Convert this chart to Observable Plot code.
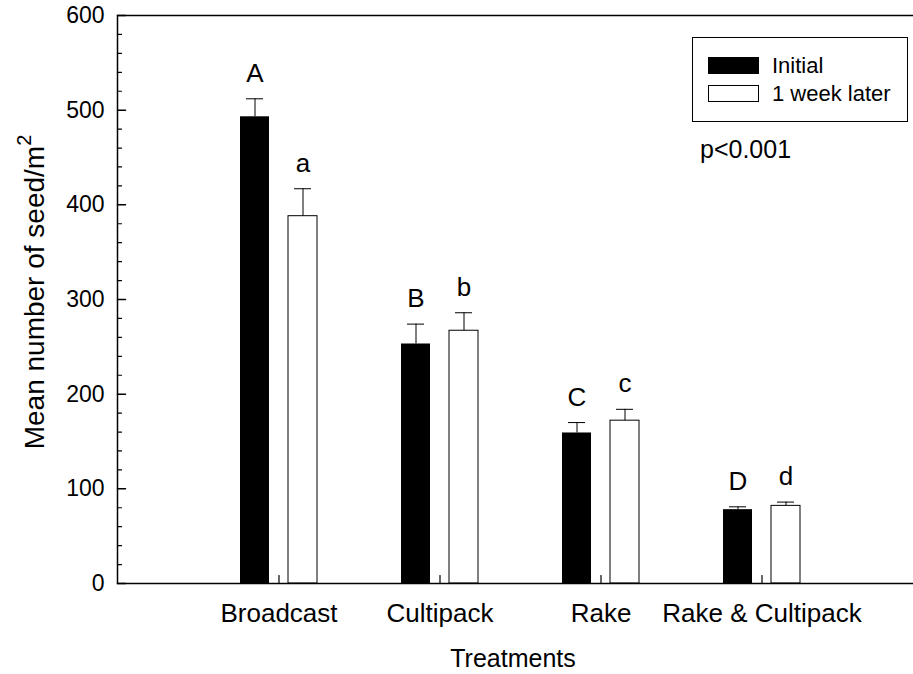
<!DOCTYPE html>
<html><head><meta charset="utf-8">
<script src="https://cdn.jsdelivr.net/npm/d3@7"></script>
<script src="https://cdn.jsdelivr.net/npm/@observablehq/plot@0.6"></script>
<style>
html,body{margin:0;padding:0;background:#fff;overflow:hidden;}
#wrap{position:relative;width:913px;height:674px;font-family:"Liberation Sans",Arial,sans-serif;color:#000;}
#wrap svg{display:block;}
.ylab{position:absolute;left:35px;top:292px;transform:translate(-50%,-50%) rotate(-90deg);white-space:nowrap;font-size:28px;line-height:28px;}
.ylab sup{font-size:20px;position:relative;top:-3px;vertical-align:super;line-height:0;}
.legend{position:absolute;left:692px;top:37px;width:216px;height:85px;border:1px solid #000;background:#fff;box-sizing:border-box;}
.sw{position:absolute;left:15px;width:51px;height:17px;box-sizing:border-box;border:1px solid #000;}
.lt{position:absolute;left:79px;font-size:22px;line-height:22px;}
.pval{position:absolute;left:700px;top:137px;font-size:25px;line-height:25px;}
</style></head><body><div id="wrap"></div>
<script>
const treatments = ["Broadcast", "Cultipack", "Rake", "Rake & Cultipack"];
const initialMean = [493, 253, 159, 78];
const initialSE = [19, 21, 11, 3];
const weekMean = [388, 267, 172, 82];
const weekSE = [29, 19, 12, 4];
const initialLetters = ["A", "B", "C", "D"];
const weekLetters = ["a", "b", "c", "d"];
const seriesNames = ["Initial", "1 week later"];
const yMajorTicks = [0, 100, 200, 300, 400, 500, 600];
const yMinorTicks = [20, 40, 60, 80, 120, 140, 160, 180, 220, 240, 260, 280, 320, 340, 360, 380, 420, 440, 460, 480, 520, 540, 560, 580];

const initialRows = treatments.map((t, i) => ({treatment: t, mean: initialMean[i], top: initialMean[i] + initialSE[i], letter: initialLetters[i]}));
const weekRows = treatments.map((t, i) => ({treatment: t, mean: weekMean[i], top: weekMean[i] + weekSE[i], letter: weekLetters[i]}));

const tickShape = {draw(context, l) { context.moveTo(0, 0); context.lineTo(0, -l); }};
const off = 24;
const font = "Liberation Sans, Arial, sans-serif";

const chart = Plot.plot({
  width: 913,
  height: 674,
  marginLeft: 117,
  marginRight: -9,
  marginTop: 15,
  marginBottom: 91,
  style: {fontFamily: font, color: "#000", background: "#fff"},
  x: {type: "band", domain: treatments, range: [117, 922], paddingInner: 0.82, paddingOuter: 0.91},
  y: {domain: [0, 600], range: [583, 15]},
  marks: [
    Plot.rectY(initialRows, {x: "treatment", y: "mean", dx: -off, fill: "#000"}),
    Plot.rectY(weekRows, {x: "treatment", y: "mean", dx: off, fill: "#fff", stroke: "#000", strokeWidth: 1}),
    Plot.ruleX(initialRows, {x: "treatment", y1: "mean", y2: "top", dx: -off, stroke: "#000"}),
    Plot.ruleX(weekRows, {x: "treatment", y1: "mean", y2: "top", dx: off, stroke: "#000"}),
    Plot.tickY(initialRows, {x: "treatment", y: "top", dx: -off, insetLeft: 6, insetRight: 6, stroke: "#000"}),
    Plot.tickY(weekRows, {x: "treatment", y: "top", dx: off, insetLeft: 6, insetRight: 6, stroke: "#000"}),
    Plot.text(initialRows, {x: "treatment", y: "top", text: "letter", dx: -off, dy: -17, lineAnchor: "bottom", fontSize: 26, fill: "#000"}),
    Plot.text(weekRows, {x: "treatment", y: "top", text: "letter", dx: off, dy: -17, lineAnchor: "bottom", fontSize: 26, fill: "#000"}),
    Plot.frame({stroke: "#000", strokeWidth: 1.5}),
    Plot.vector(yMajorTicks, {y: d => d, frameAnchor: "left", length: 8, rotate: 90, anchor: "start", shape: tickShape, stroke: "#000", strokeWidth: 1.5}),
    Plot.vector(yMinorTicks, {y: d => d, frameAnchor: "left", length: 4, rotate: 90, anchor: "start", shape: tickShape, stroke: "#000", strokeWidth: 1.2}),
    Plot.vector(treatments, {x: d => d, frameAnchor: "bottom", length: 8, rotate: 0, anchor: "start", shape: tickShape, stroke: "#000", strokeWidth: 1.2}),
    Plot.axisY({ticks: yMajorTicks, tickSize: 0, tickPadding: 13, fontSize: 23, label: null}),
    Plot.axisX({tickSize: 0, tickPadding: 20, fontSize: 26, label: null}),
    Plot.text(["Treatments"], {text: d => d, frameAnchor: "bottom", dx: -7, dy: 83, fontSize: 25, fill: "#000"})
  ]
});

const wrap = document.getElementById("wrap");
wrap.appendChild(chart);

const ylab = document.createElement("div");
ylab.className = "ylab";
ylab.innerHTML = "Mean number of seed/m<sup>2</sup>";
wrap.appendChild(ylab);

const legend = document.createElement("div");
legend.className = "legend";
const swFill = ["#000", "#fff"];
seriesNames.forEach((name, i) => {
  const sw = document.createElement("div");
  sw.className = "sw";
  sw.style.top = (19 + i * 28) + "px";
  sw.style.background = swFill[i];
  legend.appendChild(sw);
  const lt = document.createElement("div");
  lt.className = "lt";
  lt.style.top = (17 + i * 28) + "px";
  lt.textContent = name;
  legend.appendChild(lt);
});
wrap.appendChild(legend);

const p = document.createElement("div");
p.className = "pval";
p.textContent = "p<0.001";
wrap.appendChild(p);
</script>
</body></html>
